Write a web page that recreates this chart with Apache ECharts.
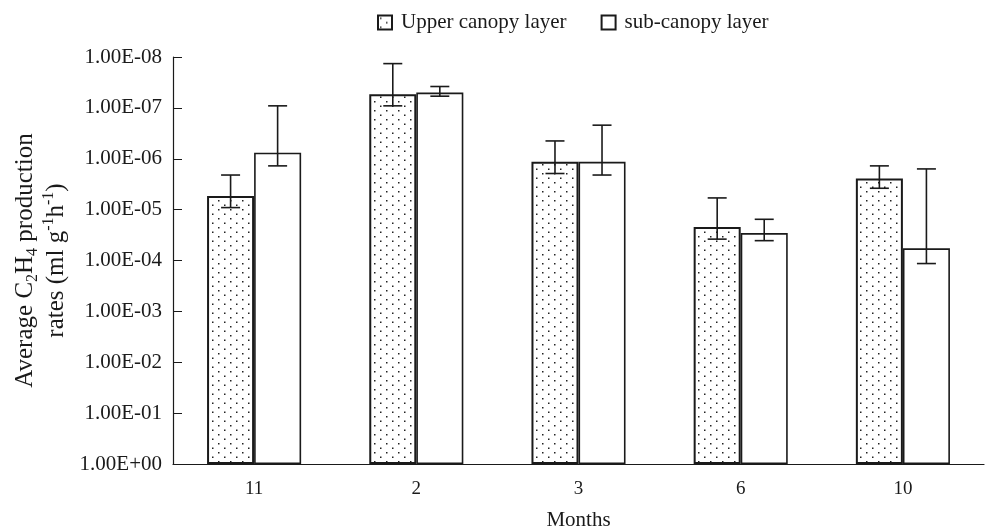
<!DOCTYPE html>
<html>
<head>
<meta charset="utf-8">
<script src="https://cdn.jsdelivr.net/npm/echarts@6/dist/echarts.min.js"></script>
<style>
  html, body { margin: 0; padding: 0; background: #fff; }
  #chart { width: 987px; height: 531px; }
</style>
</head>
<body>
<div id="chart"></div>
<script>
// axis is -log10(rate): 0 -> 1.00E+00 at the bottom, 8 -> 1.00E-08 at the top
const months = ['11', '2', '3', '6', '10'];
const upper = [5.27, 7.27, 5.94, 4.66, 5.61];
const upperLow = [5.04, 7.04, 5.71, 4.42, 5.42];
const upperHigh = [5.68, 7.87, 6.35, 5.23, 5.86];
const sub = [6.12, 7.30, 5.94, 4.54, 4.24];
const subLow = [5.86, 7.23, 5.68, 4.39, 3.94];
const subHigh = [7.04, 7.42, 6.66, 4.81, 5.80];
const yTicks = ['1.00E+00', '1.00E-01', '1.00E-02', '1.00E-03', '1.00E-04',
  '1.00E-05', '1.00E-06', '1.00E-07', '1.00E-08'];

const FONT = '"Liberation Serif", "DejaVu Serif", serif';
const INK = '#1a1a1a';
const BAR_W = 0.29;

// staggered dotted fill, like the print screen
function dotPattern() {
  const c = document.createElement('canvas');
  c.width = 12; c.height = 9;
  const ctx = c.getContext('2d');
  ctx.fillStyle = '#fff';
  ctx.fillRect(0, 0, 12, 9);
  ctx.fillStyle = '#222';
  ctx.fillRect(2, 2, 1.5, 1.5);
  ctx.fillRect(8, 6.5, 1.5, 1.5);
  return c;
}
const dots = { image: dotPattern(), repeat: 'repeat' };

function errorSeries(low, high, side) {
  return {
    type: 'custom',
    data: months.map((m, i) => [i, low[i], high[i]]),
    silent: true,
    z: 5,
    renderItem: (params, api) => {
      const band = api.size([1, 0])[0];
      const dx = side * band * BAR_W / 2;
      const lo = api.coord([api.value(0), api.value(1)]);
      const hi = api.coord([api.value(0), api.value(2)]);
      const x = lo[0] + dx;
      const cap = 9.5;
      const style = { stroke: INK, lineWidth: 1.6 };
      return {
        type: 'group',
        children: [
          { type: 'line', shape: { x1: x, y1: lo[1], x2: x, y2: hi[1] }, style },
          { type: 'line', shape: { x1: x - cap, y1: lo[1], x2: x + cap, y2: lo[1] }, style },
          { type: 'line', shape: { x1: x - cap, y1: hi[1], x2: x + cap, y2: hi[1] }, style },
        ],
      };
    },
  };
}

const chart = echarts.init(document.getElementById('chart'));
chart.setOption({
  animation: false,
  textStyle: { fontFamily: FONT, color: INK },
  grid: { left: 173, right: 3, top: 57, bottom: 67, outerBoundsMode: 'none' },
  legend: {
    top: 7,
    left: 372,
    itemGap: 34,
    itemWidth: 14,
    itemHeight: 14,
    icon: 'rect',
    textStyle: { fontFamily: FONT, fontSize: 21, color: INK, padding: [0, 0, 0, 4] },
    data: ['Upper canopy layer', 'sub-canopy layer'],
  },
  xAxis: {
    type: 'category',
    data: months,
    name: 'Months',
    nameLocation: 'middle',
    nameGap: 46,
    nameTextStyle: { fontFamily: FONT, fontSize: 21, color: INK },
    axisLine: { lineStyle: { color: INK, width: 1.2 } },
    axisTick: { inside: true, length: 9, lineStyle: { color: INK } },
    axisLabel: { fontFamily: FONT, fontSize: 19, color: INK, margin: 16 },
  },
  yAxis: {
    type: 'value',
    min: 0,
    max: 8,
    interval: 1,
    name: '{a|Average C}{s|2}{a|H}{s|4}{a| production}\n{a|rates (ml g}{p|-1}{a|h}{p|-1}{a|)}',
    nameLocation: 'middle',
    nameGap: 100,
    nameTextStyle: {
      align: 'center',
      rich: {
        a: { fontFamily: FONT, fontSize: 25, color: INK, lineHeight: 31, verticalAlign: 'middle' },
        s: { fontFamily: FONT, fontSize: 16, color: INK, lineHeight: 31, verticalAlign: 'bottom' },
        p: { fontFamily: FONT, fontSize: 16, color: INK, lineHeight: 31, verticalAlign: 'top' },
      },
    },
    axisLine: { show: true, lineStyle: { color: INK, width: 1.2 } },
    axisTick: { show: true, inside: true, length: 9, lineStyle: { color: INK } },
    splitLine: { show: false },
    axisLabel: {
      fontFamily: FONT, fontSize: 21, color: INK, margin: 11,
      formatter: (v) => yTicks[v],
    },
  },
  series: [
    {
      name: 'Upper canopy layer',
      type: 'bar',
      data: upper,
      barWidth: BAR_W * 100 + '%',
      barGap: '0%',
      itemStyle: { color: dots, borderColor: INK, borderWidth: 2 },
    },
    {
      name: 'sub-canopy layer',
      type: 'bar',
      data: sub,
      barWidth: BAR_W * 100 + '%',
      barGap: '0%',
      itemStyle: { color: '#fff', borderColor: INK, borderWidth: 1.6 },
    },
    errorSeries(upperLow, upperHigh, -1),
    errorSeries(subLow, subHigh, 1),
  ],
});
</script>
</body>
</html>
